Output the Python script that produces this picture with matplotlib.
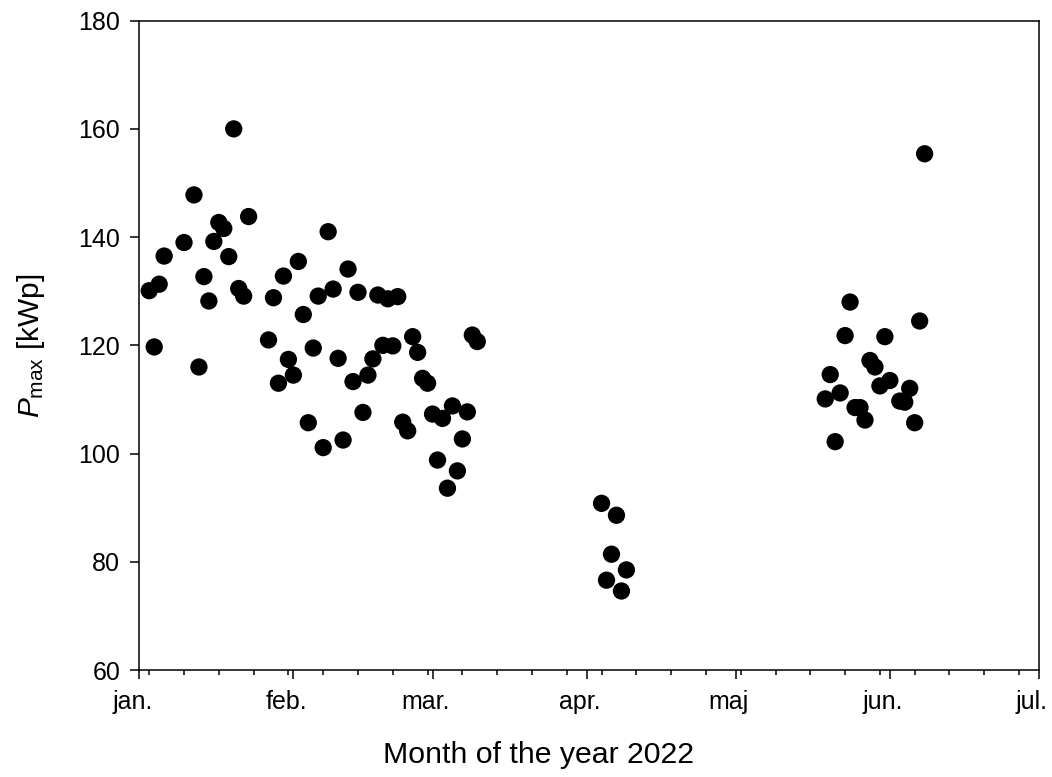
import numpy as np
import matplotlib
matplotlib.use("Agg")
from matplotlib import pyplot as plt
import matplotlib.dates as mdates
from matplotlib.transforms import ScaledTranslation

plt.rcParams['font.family'] = ['Liberation Sans', 'DejaVu Sans']
plt.rcParams['mathtext.fontset'] = 'custom'
plt.rcParams['mathtext.rm'] = 'Liberation Sans'
plt.rcParams['mathtext.it'] = 'Liberation Sans:italic'

# days after 1 jan 2022 and measured max power
days_winter = [2, 3, 4, 5,
               9, 11, 12, 13, 14, 15, 16, 17, 18, 19, 20, 21, 22,
               26, 27, 28, 29, 30, 31, 32, 33, 34, 35, 36, 37, 38, 39, 40,
               41, 42, 43, 44, 45, 46, 47, 48, 49, 50, 51, 52, 53, 54, 55,
               56, 57, 58, 59, 60, 61, 62, 63, 64, 65, 66, 67, 68]
pmax_winter = [130.1, 119.7, 131.3, 136.5,
               139.0, 147.8, 116.0, 132.7, 128.2, 139.2, 142.7, 141.6, 136.4,
               160.0, 130.5, 129.1, 143.8,
               121.0, 128.8, 113.0, 132.8, 117.4, 114.5, 135.5, 125.7, 105.7,
               119.5, 129.1, 101.1, 141.0, 130.4, 117.6, 102.5, 134.1, 113.3,
               129.8, 107.6, 114.5, 117.5, 129.3, 120.0, 128.6, 119.9, 129.0,
               105.8, 104.2, 121.6, 118.7, 113.9, 113.0, 107.3, 98.8, 106.5,
               93.6, 108.8, 96.8, 102.7, 107.7, 121.9, 120.7]

days_april = [93, 94, 95, 96, 97, 98]
pmax_april = [90.8, 76.6, 81.4, 88.6, 74.6, 78.5]

days_june = [138, 139, 140, 141, 142, 143, 144, 145, 146, 147, 148, 149,
             150, 151, 153, 154, 155, 156, 157, 158]
pmax_june = [110.1, 114.6, 102.2, 111.2, 121.8, 128.0, 108.5, 108.5, 106.2,
             117.2, 116.0, 112.5, 121.6, 113.5, 109.7, 109.5, 112.05, 105.7,
             124.5, 155.4]

month_labels = ['jan.', 'feb.', 'mar.', 'apr.', 'maj', 'jun.', 'jul.']

start = np.datetime64('2022-01-01')
days = np.array(days_winter + days_april + days_june)
pmax = np.array(pmax_winter + pmax_april + pmax_june)
dates = start + days.astype('timedelta64[D]')

fig = plt.figure(figsize=(10.52, 7.77), dpi=100)
ax = fig.add_axes([0.1324, 0.1377, 0.8552, 0.8357])

ax.scatter(dates, pmax, s=155, c='black', edgecolors='none', zorder=3)

ax.set_xlim(np.datetime64('2022-01-01'), np.datetime64('2022-07-01'))
ax.set_ylim(60, 180)
ax.set_yticks(range(60, 181, 20))

ax.xaxis.set_major_locator(mdates.MonthLocator())
ax.xaxis.set_minor_locator(mdates.WeekdayLocator(byweekday=mdates.MO))
ax.set_xticks(ax.get_xticks())
ax.set_xticklabels(month_labels)

ax.tick_params(axis='both', which='major', direction='out', length=6.2,
               width=1.1, labelsize=18)
ax.tick_params(axis='x', which='major', pad=8)
ax.tick_params(axis='y', which='major', pad=7.5)
ax.tick_params(axis='x', which='minor', direction='out', length=3.6, width=1.1)
for sp in ax.spines.values():
    sp.set_linewidth(1.1)

# month names sit a bit left of their ticks in the original
shift = ScaledTranslation(-7 / 100, 0, fig.dpi_scale_trans)
for lab in ax.get_xticklabels():
    lab.set_transform(lab.get_transform() + shift)

ax.set_xlabel('Month of the year 2022', fontsize=21.8)
ax.xaxis.set_label_coords(0.4435, -0.109)
ax.set_ylabel(r'$P_{\mathrm{max}}$ [kWp]', fontsize=21.5)
ax.yaxis.set_label_coords(-0.103, 0.5)

fig.savefig('out.png', dpi=100)
